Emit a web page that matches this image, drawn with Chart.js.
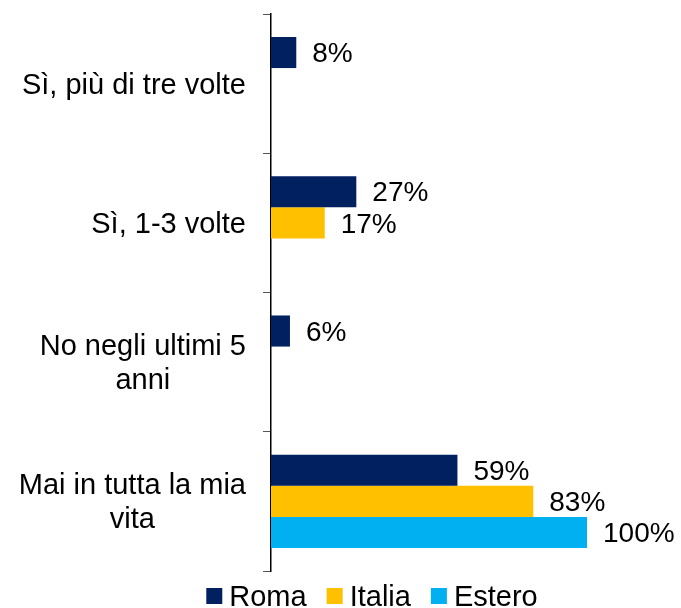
<!DOCTYPE html>
<html>
<head>
<meta charset="utf-8">
<script src="https://cdn.jsdelivr.net/npm/chart.js@4/dist/chart.umd.min.js"></script>
<style>
  html, body { margin: 0; padding: 0; background: #fff; }
  #wrap { width: 681px; height: 608px; }
</style>
</head>
<body>
<div id="wrap"><canvas id="chart" width="681" height="608"></canvas></div>
<script>
const categories = [
  ['Sì, più di tre volte'],
  ['Sì, 1-3 volte'],
  ['No negli ultimi 5', 'anni'],
  ['Mai in tutta la mia', 'vita']
];
const roma = [8, 27, 6, 59];
const italia = [null, 17, null, 83];
const estero = [null, null, null, 100];

const FONT = '"Liberation Sans", Arial, sans-serif';

// y labels drawn by hand so wrapped lines stay centred on each other
const yLabels = {
  id: 'yLabels',
  afterDraw(chart) {
    const ctx = chart.ctx;
    const y = chart.scales.y;
    ctx.save();
    ctx.font = '29px ' + FONT;
    ctx.fillStyle = '#000';
    ctx.textBaseline = 'middle';
    ctx.textAlign = 'center';
    const right = chart.chartArea.left - 25;
    categories.forEach((lines, i) => {
      const widest = Math.max(...lines.map(l => ctx.measureText(l).width));
      const cx = right - widest / 2;
      const cy = y.getPixelForValue(i) + 2;
      const lh = 34;
      lines.forEach((l, j) => {
        ctx.fillText(l, cx, cy + (j - (lines.length - 1) / 2) * lh);
      });
    });
    ctx.restore();
  }
};

const valueLabels = {
  id: 'valueLabels',
  afterDatasetsDraw(chart) {
    const ctx = chart.ctx;
    ctx.save();
    ctx.font = '28px ' + FONT;
    ctx.fillStyle = '#000';
    ctx.textBaseline = 'middle';
    ctx.textAlign = 'left';
    chart.data.datasets.forEach((ds, di) => {
      chart.getDatasetMeta(di).data.forEach((bar, i) => {
        const v = ds.data[i];
        if (v === null || v === undefined) return;
        ctx.fillText(v + '%', bar.x + 16, bar.y + 2);
      });
    });
    ctx.restore();
  }
};

const bottomLegend = {
  id: 'bottomLegend',
  afterDraw(chart) {
    const ctx = chart.ctx;
    ctx.save();
    ctx.font = '29px ' + FONT;
    ctx.textBaseline = 'middle';
    ctx.textAlign = 'left';
    const box = 16, gap = 7, spacing = 20;
    const items = chart.data.datasets.map(ds => ({
      text: ds.label, color: ds.backgroundColor, w: box + gap + ctx.measureText(ds.label).width
    }));
    const total = items.reduce((s, it) => s + it.w, 0) + spacing * (items.length - 1);
    let x = 372 - total / 2;
    const cy = 596;
    items.forEach(it => {
      ctx.fillStyle = it.color;
      ctx.fillRect(x, cy - box / 2, box, box);
      ctx.fillStyle = '#000';
      ctx.fillText(it.text, x + box + gap, cy + 2);
      x += it.w + spacing;
    });
    ctx.restore();
  }
};

new Chart(document.getElementById('chart'), {
  type: 'bar',
  data: {
    labels: categories.map(c => c.join(' ')),
    datasets: [
      { label: 'Roma', data: roma, backgroundColor: '#002060' },
      { label: 'Italia', data: italia, backgroundColor: '#FFC000' },
      { label: 'Estero', data: estero, backgroundColor: '#00B0F0' }
    ]
  },
  options: {
    indexAxis: 'y',
    responsive: false,
    animation: false,
    categoryPercentage: 0.67,
    barPercentage: 1,
    layout: { padding: { top: 14, bottom: 37, left: 0, right: 94 } },
    plugins: {
      legend: { display: false },
      tooltip: { enabled: false }
    },
    scales: {
      x: { display: false, min: 0, max: 100 },
      y: {
        afterFit(scale) { scale.width = 271; },
        ticks: { display: false },
        border: { color: '#000', width: 1.5 },
        grid: {
          offset: true,
          drawOnChartArea: false,
          tickLength: 8,
          color: '#555'
        }
      }
    }
  },
  plugins: [yLabels, valueLabels, bottomLegend]
});
</script>
</body>
</html>
